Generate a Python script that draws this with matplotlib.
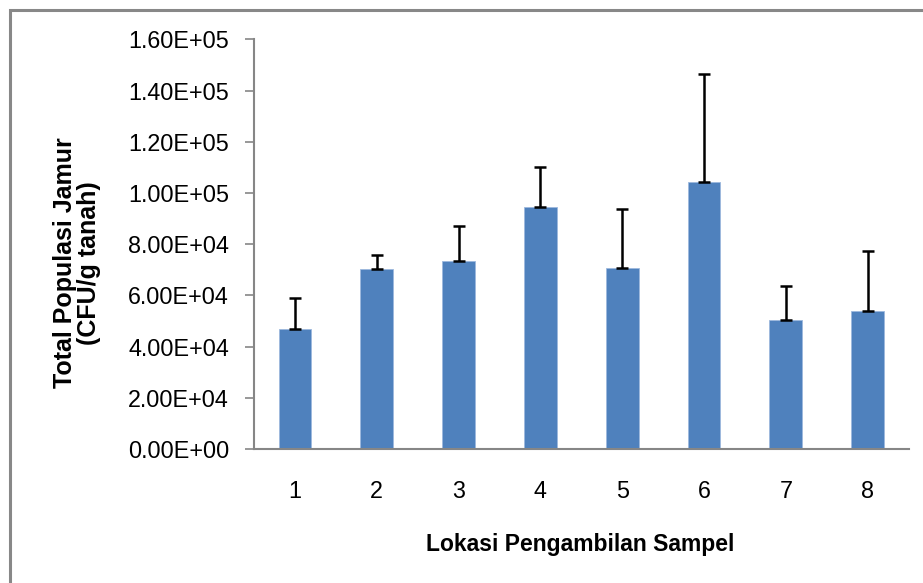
import numpy as np
import matplotlib
matplotlib.use("Agg")
import matplotlib.pyplot as plt
from matplotlib.patches import Rectangle

# data
lokasi = ["1", "2", "3", "4", "5", "6", "7", "8"]
populasi = [46700, 70400, 73400, 94500, 70700, 104200, 50500, 54000]
sd = [12100, 5400, 13700, 15600, 23000, 42100, 13200, 23300]
yticks = [0, 20000, 40000, 60000, 80000, 100000, 120000, 140000, 160000]

plt.rcParams['font.family'] = ['Liberation Sans', 'DejaVu Sans']

fig = plt.figure(figsize=(9.23, 5.83), dpi=100)
ax = fig.add_axes([0.2752, 0.2298, 0.7091, 0.7028])

x = np.arange(len(lokasi))
ax.bar(x, populasi, width=0.4, color="#4F81BD", edgecolor="#9DB9DE", linewidth=0.6, zorder=2)
ax.errorbar(x, populasi, yerr=[np.zeros(len(sd)), sd], fmt="none", ecolor="black",
            elinewidth=1.8, capsize=4.5, capthick=1.8, zorder=3)

ax.set_xlim(-0.5, len(lokasi) - 0.5)
ax.set_ylim(0, 160000)
ax.set_yticks(yticks)
ax.set_yticklabels(["%.2E" % v for v in yticks])
ax.set_xticks(x)
ax.set_xticklabels(lokasi)

for s in ["top", "right"]:
    ax.spines[s].set_visible(False)
for s in ["left", "bottom"]:
    ax.spines[s].set_color("#868686")
    ax.spines[s].set_linewidth(1.5)

ax.tick_params(axis="y", direction="out", length=6.5, width=1.2, color="#868686",
               pad=11.5, labelsize=16.8)
ax.tick_params(axis="x", length=0, pad=22, labelsize=16.8)

fig.text(580 / 923, 1 - 545 / 583, "Lokasi Pengambilan Sampel", ha="center", va="center",
         fontsize=16.5, fontweight="bold")
fig.text(77 / 923, 1 - 263 / 583, "Total Populasi Jamur\n(CFU/g tanah)", ha="center", va="center",
         rotation=90, fontsize=18, fontweight="bold", linespacing=1.0)

# outer chart border (only left/top visible in the crop)
fig.patches.append(Rectangle((10 / 923, -0.1), 1.2, 1 - 10 / 583 + 0.1, transform=fig.transFigure,
                             fill=False, edgecolor="#888888", linewidth=2.2))

fig.savefig("out.png", dpi=100)
